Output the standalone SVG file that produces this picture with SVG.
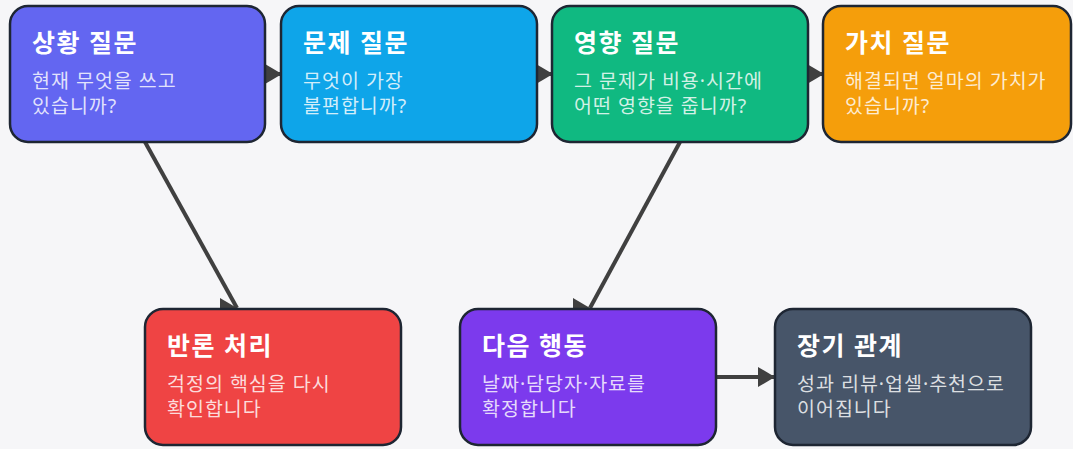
<svg xmlns="http://www.w3.org/2000/svg" width="1073" height="449" viewBox="0 0 1073 449">
<defs>
<style>
.box{stroke:#1e2633;stroke-width:2.5}
.t{font-family:"Noto Sans","Noto Sans CJK KR",sans-serif;font-weight:700;font-size:25px;letter-spacing:1.5px;fill:#ffffff}
.s{font-family:"Noto Sans","Noto Sans CJK KR",sans-serif;font-size:19.5px;letter-spacing:1px;fill:#ffffff;fill-opacity:0.82}
.c{stroke:#404040;stroke-width:4;fill:none;marker-end:url(#ah)}
</style>
<marker id="ah" markerUnits="userSpaceOnUse" markerWidth="18" markerHeight="20" refX="17" refY="10" viewBox="0 0 18 20">
<path d="M0,0 L17,10 L0,20 z" fill="#404040"/>
</marker>
</defs>
<rect width="1073" height="449" fill="#f6f6f8"/>
<g id="connectors">
<line class="c" x1="262" y1="74" x2="282" y2="74"/>
<line class="c" x1="533" y1="74" x2="553" y2="74"/>
<line class="c" x1="804" y1="74" x2="824" y2="74"/>
<line class="c" x1="145" y1="142" x2="237" y2="308"/>
<line class="c" x1="680" y1="142" x2="590" y2="308"/>
<line class="c" x1="716" y1="377" x2="775" y2="377"/>
</g>
<g id="n1">
<rect class="box" x="10" y="6" width="255" height="136" rx="18" fill="#6366f1"/>
<text class="t" x="32" y="52">상황 질문</text>
<text class="s" x="32" y="88">현재 무엇을 쓰고</text>
<text class="s" x="32" y="113">있습니까?</text>
</g>
<g id="n2">
<rect class="box" x="281" y="6" width="256" height="136" rx="18" fill="#0ea5e9"/>
<text class="t" x="303" y="52">문제 질문</text>
<text class="s" x="303" y="88">무엇이 가장</text>
<text class="s" x="303" y="113">불편합니까?</text>
</g>
<g id="n3">
<rect class="box" x="552" y="6" width="256" height="136" rx="18" fill="#10b981"/>
<text class="t" x="574" y="52">영향 질문</text>
<text class="s" x="574" y="88">그 문제가 비용·시간에</text>
<text class="s" x="574" y="113">어떤 영향을 줍니까?</text>
</g>
<g id="n4">
<rect class="box" x="823" y="6" width="248" height="136" rx="18" fill="#f59e0b"/>
<text class="t" x="845" y="52">가치 질문</text>
<text class="s" x="845" y="88">해결되면 얼마의 가치가</text>
<text class="s" x="845" y="113">있습니까?</text>
</g>
<g id="n5">
<rect class="box" x="145" y="309" width="256" height="136" rx="18" fill="#ef4444"/>
<text class="t" x="167" y="355">반론 처리</text>
<text class="s" x="167" y="391">걱정의 핵심을 다시</text>
<text class="s" x="167" y="416">확인합니다</text>
</g>
<g id="n6">
<rect class="box" x="460" y="309" width="256" height="136" rx="18" fill="#7c3aed"/>
<text class="t" x="482" y="355">다음 행동</text>
<text class="s" x="482" y="391">날짜·담당자·자료를</text>
<text class="s" x="482" y="416">확정합니다</text>
</g>
<g id="n7">
<rect class="box" x="775" y="309" width="256" height="136" rx="18" fill="#475569"/>
<text class="t" x="797" y="355">장기 관계</text>
<text class="s" x="797" y="391">성과 리뷰·업셀·추천으로</text>
<text class="s" x="797" y="416">이어집니다</text>
</g>
</svg>
